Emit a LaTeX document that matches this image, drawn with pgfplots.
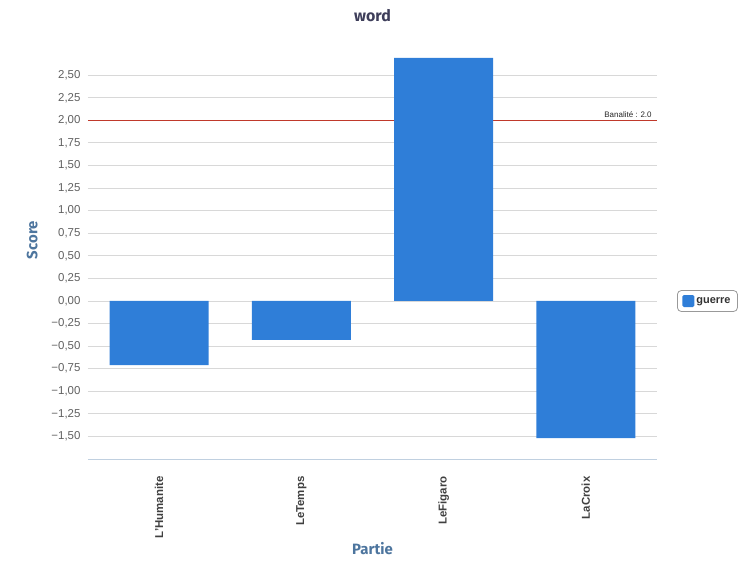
\documentclass[border=0pt]{standalone}
\usepackage{pgfplots}
\pgfplotsset{compat=1.18}
\usepackage{fontspec}
\setmainfont{Liberation Sans}
\newfontfamily\titlefont{Fira Sans}
\definecolor{barblue}{HTML}{2F7ED8}
\definecolor{gridgrey}{HTML}{D8D8D8}
\definecolor{axisblue}{HTML}{C0D0E0}
\definecolor{titleblue}{HTML}{4D759E}
\definecolor{titledark}{HTML}{3E3E5A}
\definecolor{ticktext}{HTML}{606060}
\definecolor{redline}{HTML}{C0392B}
\pgfplotstableread{
x val
0 -0.71
1 -0.43
2 2.69
3 -1.52
}\datatable
\begin{document}
\begin{tikzpicture}
\begin{axis}[
  scale only axis,
  width=569bp, height=401bp,
  xmin=-0.5, xmax=3.5,
  ymin=-1.75, ymax=2.69,
  axis x line*=bottom,
  axis y line*=left,
  y axis line style={draw=none},
  x axis line style={draw=axisblue, line width=0.8pt},
  xtick={0,1,2,3},
  xticklabels={L'Humanite,LeTemps,LeFigaro,LaCroix},
  x tick label style={rotate=90, anchor=east, font=\fontsize{11.5}{13}\selectfont\bfseries, text=black!75, xshift=-14bp},
  major x tick style={draw=none},
  extra x ticks={-0.5,0.5,1.5,2.5,3.5},
  extra x tick labels={},
  extra x tick style={tick align=outside, major tick length=5bp, tick style={draw=axisblue, line width=0.8pt}, grid=none},
  ytick={-1.5,-1.25,-1,-0.75,-0.5,-0.25,0,0.25,0.5,0.75,1,1.25,1.5,1.75,2,2.25,2.5},
  yticklabels={{−1,50},{−1,25},{−1,00},{−0,75},{−0,50},{−0,25},{0,00},{0,25},{0,50},{0,75},{1,00},{1,25},{1,50},{1,75},{2,00},{2,25},{2,50}},
  y tick label style={font=\fontsize{11.5}{13}\selectfont, text=ticktext, xshift=-4bp},
  major y tick style={draw=none},
  ymajorgrids=true,
  grid style={draw=gridgrey, line width=0.8pt},
  ylabel={\titlefont\bfseries Score},
  ylabel style={font=\fontsize{15}{17}\selectfont, text=titleblue, at={(axis description cs:-0.098,0.546)}, anchor=center},
  xlabel={\titlefont\bfseries Partie},
  xlabel style={font=\fontsize{15}{17}\selectfont, text=titleblue, at={(rel axis cs:0.5,0)}, anchor=center, yshift=-90bp},
  title={\titlefont\bfseries word},
  title style={font=\fontsize{16}{18}\selectfont, text=titledark, at={(rel axis cs:0.5,1)}, anchor=center, yshift=36bp},
  legend style={at={(rel axis cs:1,0.394)}, anchor=west, xshift=20bp, draw=black!40, line width=0.8pt, rounded corners=4pt, font=\fontsize{11}{12}\selectfont\bfseries, text=black!80, inner xsep=5bp, inner ysep=4.5bp},
  legend cell align=left,
  clip=false,
]
\addplot[draw=redline, line width=0.7pt, forget plot] coordinates {(-0.5,2) (3.5,2)}
  node[pos=1, anchor=south east, font=\fontsize{8}{9}\selectfont, text=black!85, inner sep=2bp, xshift=-3bp] {Banalité : 2.0};
\addplot[ybar, bar width=99bp, fill=barblue, draw=none, bar shift=0pt,
  area legend,
  legend image code/.code={\fill[barblue, rounded corners=1.5pt] (-1bp,-6bp) rectangle (11bp,6bp);}]
  table[x=x, y=val] {\datatable};
\addlegendentry{guerre}
\end{axis}
\path (current axis.south west) ++(-88bp,-109bp) rectangle ++(741bp,568bp);
\end{tikzpicture}
\end{document}
